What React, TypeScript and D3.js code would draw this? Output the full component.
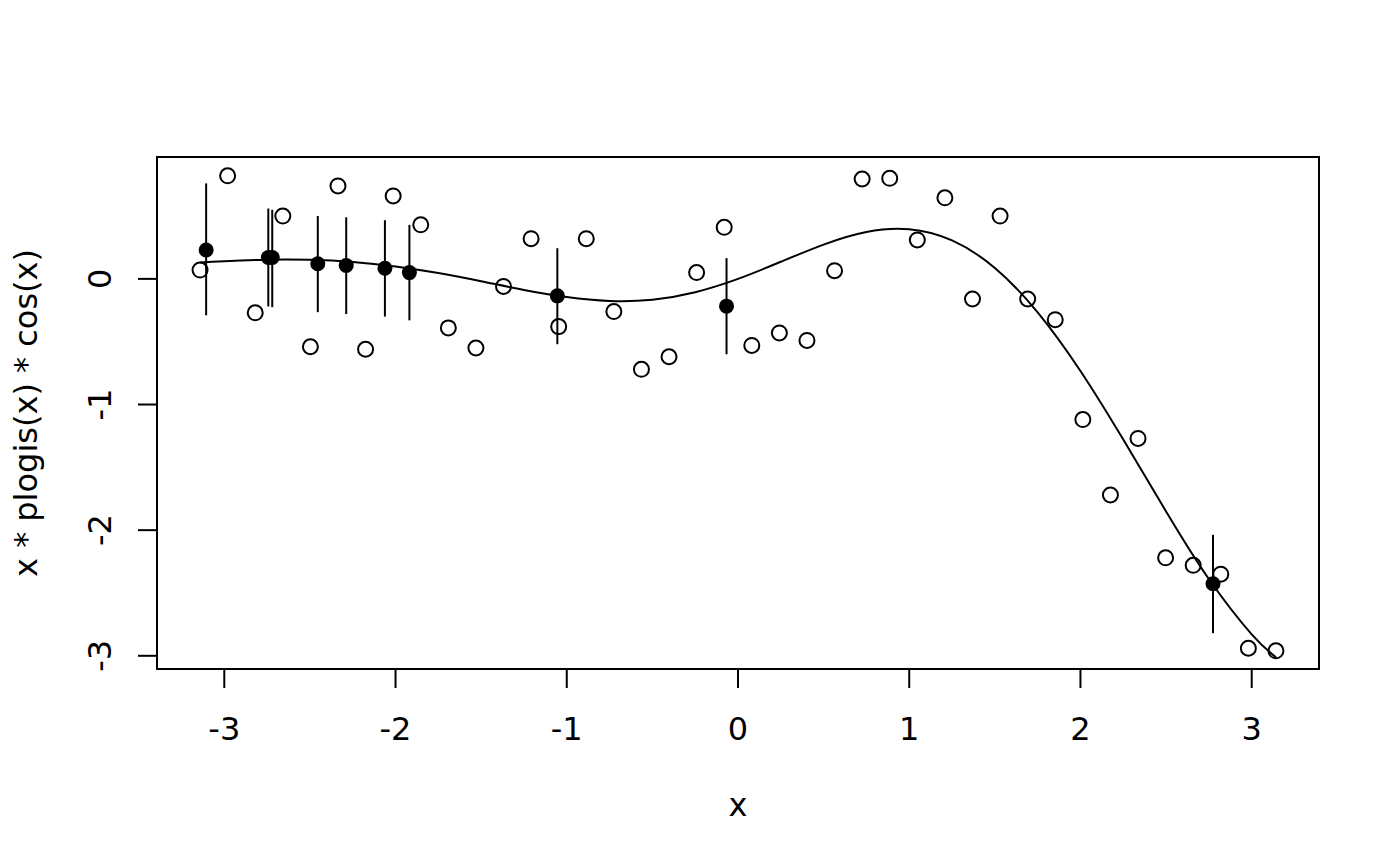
import * as d3 from "d3";

// open circles: x = seq(-pi, pi, length = 40)
const obsY = [
  0.07, 0.82, -0.27, 0.5, -0.54, 0.74, -0.56, 0.66, 0.43, -0.39,
  -0.55, -0.06, 0.32, -0.38, 0.32, -0.26, -0.72, -0.62, 0.05, 0.41,
  -0.53, -0.43, -0.49, 0.065, 0.795, 0.8, 0.31, 0.645, -0.16, 0.5,
  -0.16, -0.325, -1.12, -1.72, -1.27, -2.22, -2.28, -2.35, -2.94, -2.96,
];
const obsX = obsY.map((_, i) => -Math.PI + (i * 2 * Math.PI) / (obsY.length - 1));

// filled points with vertical error bars
const estX = [-3.106, -2.743, -2.72, -2.454, -2.288, -2.062, -1.919, -1.055, -0.067, 2.774];
const estY = [0.23, 0.17, 0.17, 0.12, 0.106, 0.085, 0.05, -0.135, -0.217, -2.426];
const estLo = [-0.29, -0.22, -0.225, -0.265, -0.28, -0.3, -0.33, -0.52, -0.6, -2.82];
const estHi = [0.76, 0.56, 0.55, 0.5, 0.49, 0.467, 0.43, 0.244, 0.165, -2.037];

// smooth reference curve
const curveX = [
  -3.1416, -3, -2.75, -2.5, -2.25, -2, -1.75, -1.5, -1.25, -1, -0.75, -0.5, -0.25, 0,
  0.25, 0.5, 0.75, 1, 1.25, 1.5, 1.75, 2, 2.25, 2.5, 2.75, 3, 3.1416,
];
const curveY = [
  0.13, 0.141, 0.153, 0.152, 0.135, 0.099, 0.046, -0.019, -0.088, -0.145, -0.176, -0.166,
  -0.106, 0, 0.136, 0.273, 0.373, 0.395, 0.306, 0.087, -0.266, -0.733, -1.279, -1.851,
  -2.389, -2.829, -3.011,
];

const xTicks = [-3, -2, -1, 0, 1, 2, 3];
const yTicks = [-3, -2, -1, 0];

const W = 1400;
const H = 866;
const left = 157;
const right = 1319;
const top = 157;
const bottom = 669;
const font = "'DejaVu Sans', sans-serif";
const fs = 32;

export default function App() {
  const x = d3.scaleLinear().domain([-3.393, 3.393]).range([left, right]);
  const y = d3.scaleLinear().domain([-3.105, 0.97]).range([bottom, top]);
  const line = d3
    .line<number>()
    .x((_, i) => x(curveX[i]))
    .y(d => y(d))
    .curve(d3.curveNatural);

  return (
    <svg
      width={W}
      height={H}
      style={{ position: "absolute", left: 0, top: 0, background: "white" }}
      fontFamily={font}
      fontSize={fs}
    >
      <rect x={left} y={top} width={right - left} height={bottom - top} fill="none" stroke="black" strokeWidth={2} />
      <path d={line(curveY) ?? undefined} fill="none" stroke="black" strokeWidth={2} />
      {estX.map((d, i) => (
        <line key={"e" + i} x1={x(d)} x2={x(d)} y1={y(estLo[i])} y2={y(estHi[i])} stroke="black" strokeWidth={2} />
      ))}
      {obsY.map((d, i) => (
        <circle key={"o" + i} cx={x(obsX[i])} cy={y(d)} r={7.5} fill="none" stroke="black" strokeWidth={2} />
      ))}
      {estY.map((d, i) => (
        <circle key={"f" + i} cx={x(estX[i])} cy={y(d)} r={7.5} fill="black" />
      ))}
      {/* x axis */}
      <line x1={x(-3)} x2={x(3)} y1={bottom} y2={bottom} stroke="black" strokeWidth={2} />
      {xTicks.map(t => (
        <g key={"xt" + t}>
          <line x1={x(t)} x2={x(t)} y1={bottom} y2={bottom + 19} stroke="black" strokeWidth={2} />
          <text x={x(t)} y={740} textAnchor="middle">{t}</text>
        </g>
      ))}
      <text x={(left + right) / 2} y={816} textAnchor="middle">x</text>
      {/* y axis */}
      <line x1={left} x2={left} y1={y(-3)} y2={y(0)} stroke="black" strokeWidth={2} />
      {yTicks.map(t => (
        <g key={"yt" + t}>
          <line x1={left} x2={left - 19} y1={y(t)} y2={y(t)} stroke="black" strokeWidth={2} />
          <text transform={`translate(111,${y(t)}) rotate(-90)`} textAnchor="middle">{t}</text>
        </g>
      ))}
      <text transform={`translate(37,${(top + bottom) / 2}) rotate(-90)`} textAnchor="middle">
        x * plogis(x) * cos(x)
      </text>
    </svg>
  );
}
